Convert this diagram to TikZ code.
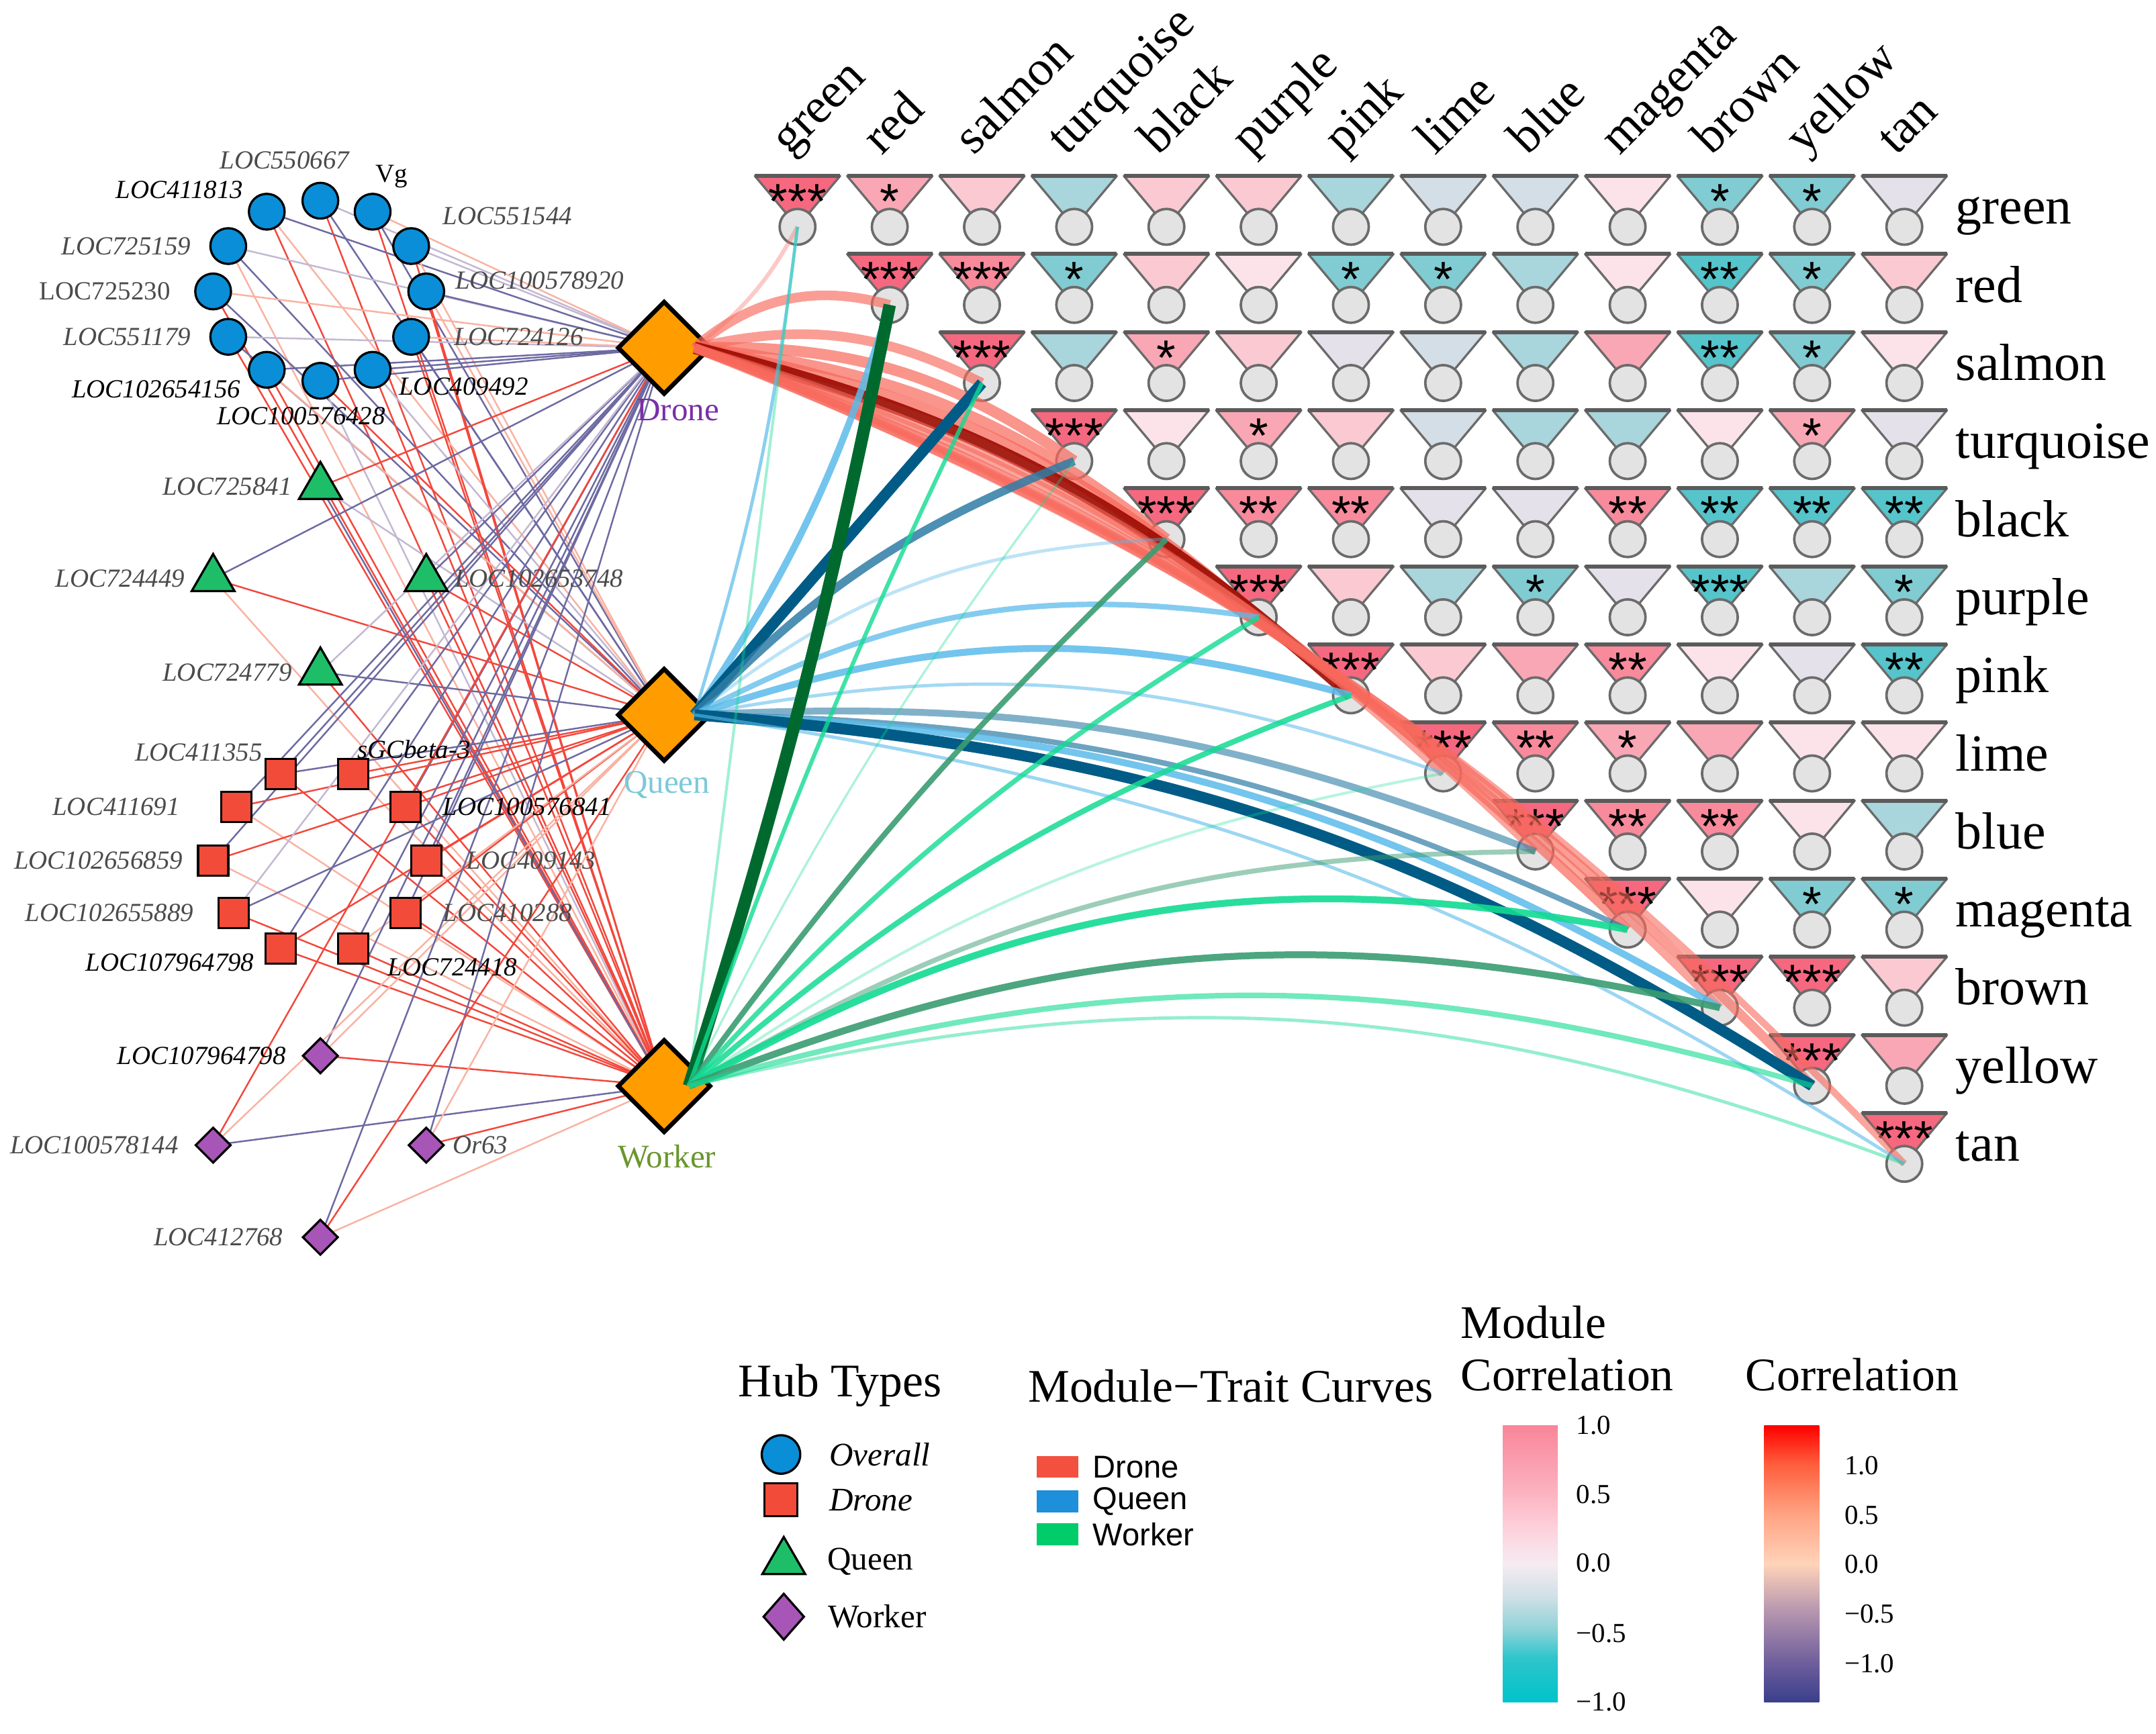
\documentclass[tikz,border=0pt]{standalone}
\usepackage{fontspec}
\setmainfont{Liberation Serif}
\newfontfamily\keysans{Liberation Sans}
\usetikzlibrary{positioning,shapes.geometric}
\pgfdeclarelayer{back}
\pgfdeclarelayer{links}
\pgfsetlayers{back,links,main}
% network nodes
\definecolor{hubor}{HTML}{FF9C00}
\definecolor{ovblue}{HTML}{0A8ED8}
\definecolor{drred}{HTML}{F24B3A}
\definecolor{qugreen}{HTML}{1EBE68}
\definecolor{wkpurple}{HTML}{A855B8}
\definecolor{labgrey}{HTML}{4B4B4B}
\definecolor{dronelab}{HTML}{7A2FA6}
\definecolor{queenlab}{HTML}{7CC9D9}
\definecolor{workerlab}{HTML}{6A962C}
% hub links
\definecolor{eR}{HTML}{F2483C}
\definecolor{er}{HTML}{F9B3A2}
\definecolor{eB}{HTML}{6D6AA2}
\definecolor{eb}{HTML}{C3B8D2}
% module cells
\definecolor{P4}{HTML}{F6687F}
\definecolor{P3}{HTML}{F88A9C}
\definecolor{P2}{HTML}{F9A7B4}
\definecolor{P1}{HTML}{FBC9D2}
\definecolor{P0}{HTML}{FCE3EA}
\definecolor{Z0}{HTML}{E5E1EB}
\definecolor{N1}{HTML}{D4DEE6}
\definecolor{N2}{HTML}{A9D5DC}
\definecolor{N3}{HTML}{80CCD2}
\definecolor{N4}{HTML}{55C4CB}
\definecolor{cellline}{HTML}{6B6B6B}
\definecolor{cellcirc}{HTML}{E3E3E3}
% curves
\definecolor{cdr}{HTML}{F8695C}
\definecolor{cdrdark}{HTML}{9C0A00}
\definecolor{cqu}{HTML}{5BBBEA}
\definecolor{cqumid}{HTML}{2E7DA6}
\definecolor{cqudark}{HTML}{005C86}
\definecolor{cwk}{HTML}{12DB92}
\definecolor{cwkmid}{HTML}{3A9D72}
\definecolor{cwkdark}{HTML}{006A2E}
% legends
\definecolor{kyDrone}{HTML}{F4503F}
\definecolor{kyQueen}{HTML}{1D8FDB}
\definecolor{kyWorker}{HTML}{00CC6A}
\definecolor{msA}{HTML}{00C3CA}
\definecolor{msB}{HTML}{2EC5CB}
\definecolor{msC}{HTML}{8CD2D7}
\definecolor{msD}{HTML}{CFE0E6}
\definecolor{msE}{HTML}{F6EBF1}
\definecolor{msF}{HTML}{FDD3DD}
\definecolor{msG}{HTML}{FCB2C0}
\definecolor{msH}{HTML}{F8869A}
\definecolor{csA}{HTML}{3A3F8C}
\definecolor{csB}{HTML}{6E5E9C}
\definecolor{csC}{HTML}{B293AE}
\definecolor{csD}{HTML}{FFD3B9}
\definecolor{csE}{HTML}{FFA383}
\definecolor{csF}{HTML}{FF5E3C}
\definecolor{csG}{HTML}{FF0000}
\pgfdeclareverticalshading{modscale}{100bp}{color(0bp)=(msA); color(25bp)=(msA); color(33bp)=(msB); color(38bp)=(msC); color(44bp)=(msD); color(50bp)=(msE); color(56bp)=(msF); color(63bp)=(msG); color(75bp)=(msH); color(100bp)=(msH)}
\pgfdeclareverticalshading{corscale}{100bp}{color(0bp)=(csA); color(25bp)=(csA); color(32bp)=(csB); color(41bp)=(csC); color(50bp)=(csD); color(59bp)=(csE); color(68bp)=(csF); color(75bp)=(csG); color(100bp)=(csG)}
% one funnel cell of the module matrix
\newcommand{\modcell}[4]{%
  \pgfmathsetmacro{\cx}{580+67.08*#2}%
  \pgfmathsetmacro{\ty}{128+56.8*#1}%
  \pgfmathsetmacro{\cy}{165+56.8*#1}%
  \filldraw[funnel,fill=#3] (\cx-31,\ty) -- (\cx+31,\ty) -- (\cx,\cy) -- cycle;
  \draw[funneltop] (\cx-31,\ty) -- (\cx+31,\ty);
  \node[modcirc] (m#1-#2) at (\cx,\cy) {};
  \node[sig] (s#1-#2) at (\cx,\ty+31) {#4};}
\newcommand{\modrow}[2]{\foreach \fc/\st [count=\col from #1] in {#2}{\modcell{#1}{\col}{\fc}{\st}}}

\begin{document}
\begin{tikzpicture}[x=0.5pt,y=-0.5pt,
 hub/.style={diamond,draw=black,line width=1.6pt,fill=hubor,minimum width=34pt,minimum height=34pt,inner sep=0pt},
 overall/.style={circle,draw=black,line width=0.8pt,fill=ovblue,minimum size=13pt,inner sep=0pt},
 dronehub/.style={rectangle,draw=black,line width=0.8pt,fill=drred,minimum size=11pt,inner sep=0pt},
 queenhub/.style={regular polygon,regular polygon sides=3,draw=black,line width=0.8pt,fill=qugreen,minimum size=18pt,inner sep=0pt},
 workerhub/.style={diamond,draw=black,line width=0.8pt,fill=wkpurple,minimum width=13pt,minimum height=13pt,inner sep=0pt},
 gene/.style={font=\fontsize{9.5}{11}\selectfont\itshape,text=labgrey,inner sep=0.5pt},
 genek/.style={gene,text=black},
 geneup/.style={font=\fontsize{9.5}{11}\selectfont,text=labgrey,inner sep=0.5pt},
 hublab/.style={font=\fontsize{12}{14}\selectfont,inner sep=0.5pt},
 link/.style={line width=0.6pt},
 funnel/.style={draw=cellline,line width=0.8pt,line join=round},
 funneltop/.style={draw=cellline!85!black,line width=1.5pt},
 modcirc/.style={circle,draw=cellline,line width=0.9pt,fill=cellcirc,minimum size=13pt,inner sep=0pt},
 sig/.style={anchor=base,font=\keysans\fontsize{18}{18}\selectfont,inner sep=0pt},
 collab/.style={anchor=base west,rotate=45,font=\fontsize{18}{20}\selectfont,inner sep=0pt},
 rowlab/.style={anchor=base west,font=\fontsize{19}{21}\selectfont,inner sep=0pt},
 ttl/.style={font=\fontsize{17}{19}\selectfont,inner sep=0pt},
 keytxt/.style={font=\fontsize{12}{14}\selectfont,inner sep=0pt},
 curvkey/.style={rectangle,minimum width=15pt,minimum height=8pt,inner sep=0pt},
 curvtxt/.style={font=\keysans\fontsize{11.5}{13}\selectfont,inner sep=0pt},
 ticklab/.style={anchor=west,font=\fontsize{10}{12}\selectfont,inner sep=0pt}]
\useasboundingbox (0,0) rectangle (1568,1261);
\begin{pgfonlayer}{back}
 \fill[white] (0,0) rectangle (1568,1261);
\end{pgfonlayer}

% overall hub genes
\node[overall] (o1) at (233,146) {};
\node[overall] (o2) at (271,154) {};
\node[overall] (o3) at (194,154) {};
\node[overall] (o4) at (166,179) {};
\node[overall] (o5) at (299,179) {};
\node[overall] (o6) at (155,212) {};
\node[overall] (o7) at (310,212) {};
\node[overall] (o8) at (166,245) {};
\node[overall] (o9) at (299,245) {};
\node[overall] (o10) at (194,269) {};
\node[overall] (o11) at (271,269) {};
\node[overall] (o12) at (233,277) {};
\node[gene,above=4pt of o1,xshift=-13pt] (t1) {LOC550667};
\node[geneup,text=black,above=1pt of o2,xshift=7pt] (t2) {Vg};
\node[genek,left=1pt of o3,yshift=8pt] (t3) {LOC411813};
\node[gene,left=6pt of o4] (t4) {LOC725159};
\node[gene,right=4pt of o5,yshift=11pt] (t5) {LOC551544};
\node[geneup,left=8pt of o6] (t6) {LOC725230};
\node[gene,right=3pt of o7,yshift=4pt] (t7) {LOC100578920};
\node[gene,left=6pt of o8] (t8) {LOC551179};
\node[gene,right=8pt of o9] (t9) {LOC724126};
\node[genek,left=2pt of o10,yshift=-7pt] (t10) {LOC102654156};
\node[genek,right=2pt of o11,yshift=-6pt] (t11) {LOC409492};
\node[genek,below=2pt of o12,xshift=-7pt] (t12) {LOC100576428};

% queen hub genes
\node[queenhub] (q1) at (233,354) {};
\node[queenhub] (q2) at (155,421) {};
\node[queenhub] (q3) at (310,421) {};
\node[queenhub] (q4) at (233,489) {};
\node[gene,left=4pt of q1] (t13) {LOC725841};
\node[gene,left=4pt of q2] (t14) {LOC724449};
\node[gene,right=4pt of q3] (t15) {LOC102653748};
\node[gene,left=4pt of q4] (t16) {LOC724779};

% drone hub genes
\node[dronehub] (d1) at (204,563) {};
\node[dronehub] (d2) at (257,563) {};
\node[dronehub] (d3) at (172,587) {};
\node[dronehub] (d4) at (295,587) {};
\node[dronehub] (d5) at (155,626) {};
\node[dronehub] (d6) at (310,626) {};
\node[dronehub] (d7) at (170,664) {};
\node[dronehub] (d8) at (295,664) {};
\node[dronehub] (d9) at (204,690) {};
\node[dronehub] (d10) at (257,690) {};
\node[gene,above left=-2pt and 0pt of d1] (t17) {LOC411355};
\node[genek,above=-1pt of d2,xshift=22pt] (t18) {sGCbeta-3};
\node[gene,left=14pt of d3] (t19) {LOC411691};
\node[genek,right=7pt of d4] (t20) {LOC100576841};
\node[gene,left=4.5pt of d5] (t21) {LOC102656859};
\node[gene,right=8pt of d6] (t22) {LOC409143};
\node[gene,left=8pt of d7] (t23) {LOC102655889};
\node[gene,right=7pt of d8] (t24) {LOC410288};
\node[genek,left=3pt of d9,yshift=-5pt] (t25) {LOC107964798};
\node[genek,below right=-3pt and 6pt of d10] (t26) {LOC724418};

% worker hub genes
\node[workerhub] (w1) at (233,768) {};
\node[workerhub] (w2) at (155,833) {};
\node[workerhub] (w3) at (310,833) {};
\node[workerhub] (w4) at (233,900) {};
\node[genek,left=5pt of w1] (t27) {LOC107964798};
\node[gene,left=5pt of w2] (t28) {LOC100578144};
\node[gene,right=2pt of w3] (t29) {Or63};
\node[gene,left=6pt of w4] (t30) {LOC412768};

% caste hubs
\node[hub] (drone) at (483,253) {};
\node[hub] (queen) at (483,520) {};
\node[hub] (worker) at (483,790) {};
\node[hublab,text=dronelab,below=0pt of drone,xshift=5pt] (dlab) {Drone};
\node[hublab,text=queenlab,below=2pt of queen,xshift=1pt] (qlab) {Queen};
\node[hublab,text=workerlab,below=3pt of worker,xshift=1pt] (wlab) {Worker};

\begin{pgfonlayer}{links}
\foreach \n/\cd/\cq/\cw in {o1/eb/eB/eR,o2/er/eB/eR,o3/eB/er/eR,o4/eb/eB/er,o5/eb/er/eR,o6/er/eB/eR,
  o7/eB/er/eR,o8/eb/eB/eR,o9/er/eB/eR,o10/eB/er/eR,o11/eB/eb/eR,o12/eB/eR/eb,
  q1/eR/eb/eB,q2/eB/eR/er,q3/eB/eR/eR,q4/eb/eB/eR,
  d1/eB/eB/eR,d2/eB/eR/er,d3/eB/eR/er,d4/eB/eR/eR,d5/eB/eR/er,d6/eB/eR/eR,d7/eb/eB/eR,
  d8/eB/eR/eR,d9/eB/eR/eR,d10/eB/er/eR,
  w1/eB/er/eR,w2/eR/er/eB,w3/eB/er/eR,w4/eB/eR/er}
 {\draw[link,draw=\cd] (\n.center) -- (drone.center);
  \draw[link,draw=\cq] (\n.center) -- (queen.center);
  \draw[link,draw=\cw] (\n.center) -- (worker.center);}
\end{pgfonlayer}

% module correlation matrix
\foreach \lab [count=\col from 0] in {green,red,salmon,turquoise,black,purple,pink,lime,blue,magenta,brown,yellow,tan}
 {\node[collab] (cl\col) at ({574+67.08*\col},114) {\lab};
  \node[rowlab] (rl\col) at (1422,{163+56.8*\col}) {\lab};}
\modrow{0}{P4/***,P2/*,P1/{},N2/{},P1/{},P1/{},N2/{},N1/{},N1/{},P0/{},N3/*,N3/*,Z0/{}}
\modrow{1}{P4/***,P3/***,N3/*,P1/{},P0/{},N3/*,N3/*,N2/{},P0/{},N4/**,N3/*,P1/{}}
\modrow{2}{P4/***,N2/{},P2/*,P1/{},Z0/{},N1/{},N2/{},P2/{},N4/**,N3/*,P0/{}}
\modrow{3}{P4/***,P0/{},P2/*,P1/{},N1/{},N2/{},N2/{},P0/{},P2/*,Z0/{}}
\modrow{4}{P4/***,P3/**,P3/**,Z0/{},Z0/{},P3/**,N4/**,N4/**,N4/**}
\modrow{5}{P4/***,P1/{},N2/{},N3/*,Z0/{},N4/***,N2/{},N3/*}
\modrow{6}{P4/***,P1/{},P2/{},P3/**,P0/{},Z0/{},N4/**}
\modrow{7}{P4/***,P3/**,P2/*,P2/{},P0/{},P0/{}}
\modrow{8}{P4/***,P3/**,P3/**,P0/{},N2/{}}
\modrow{9}{P4/***,P0/{},N3/*,N3/*}
\modrow{10}{P4/***,P4/***,P1/{}}
\modrow{11}{P4/***,P2/{}}
\modrow{12}{P4/***}

% module-trait curves
\foreach \tg/\w/\cc/\op/\bd in {0/1.5/cdr/0.35/-12,1/3.5/cdr/0.65/28,2/3.5/cdr/0.65/20,3/4/cdr/0.7/18,
  4/4/cdr/0.7/16,5/4/cdr/0.75/15,6/4.5/cdrdark/0.9/14,7/3/cdr/0.6/13,8/3/cdr/0.6/13,
  9/3.5/cdr/0.7/12,10/3/cdr/0.6/12,11/3.5/cdr/0.65/12,12/2.5/cdr/0.6/12}
 \draw[line width=\w pt,draw=\cc,opacity=\op] ([xshift=11pt]drone.center) to[bend left=\bd] (m\tg-\tg.center);
\foreach \tg/\w/\cc/\op/\bd in {0/1.2/cqu/0.7/-5,1/2.5/cqu/0.85/-8,2/4/cqudark/1/0,3/3/cqumid/0.85/12,
  4/1.2/cqu/0.4/18,5/2/cqu/0.75/18,6/2.5/cqu/0.85/17,7/1.2/cqu/0.55/15,8/2.5/cqumid/0.6/12,
  9/2/cqumid/0.7/12,10/2.5/cqu/0.85/14,11/4/cqudark/1/14,12/1.2/cqu/0.6/12}
 \draw[line width=\w pt,draw=\cc,opacity=\op] ([xshift=11pt]queen.center) to[bend left=\bd] (m\tg-\tg.center);
\foreach \tg/\w/\cc/\op/\bd in {0/1/cwk/0.4/0,1/4.5/cwkdark/1/-3,2/1.5/cwk/0.8/3,3/0.8/cwk/0.35/5,
  4/2/cwkmid/0.9/5,5/1.8/cwk/0.8/8,6/2/cwk/0.85/10,7/1/cwk/0.3/12,8/1.8/cwkmid/0.5/15,
  9/2.5/cwk/0.9/20,10/2.5/cwkmid/0.9/17,11/2/cwk/0.6/16,12/1.2/cwk/0.45/17}
 \draw[line width=\w pt,draw=\cc,opacity=\op] ([xshift=9pt]worker.center) to[bend left=\bd] (m\tg-\tg.center);

% legends
\node[ttl] (hubttl) at (611,1008) {Hub Types};
\node[overall,minimum size=14pt] (kov) at (568,1058) {};
\node[dronehub,minimum size=12pt] (kdr) at (568,1091) {};
\node[queenhub] (kqu) at (570,1136) {};
\node[workerhub,minimum width=15pt,minimum height=17pt] (kwk) at (570,1176) {};
\node[keytxt,right=10pt of kov] (kovt) {\itshape Overall};
\node[keytxt,right=11pt of kdr] (kdrt) {\itshape Drone};
\node[keytxt,right=10pt of kqu] (kqut) {Queen};
\node[keytxt,right=8pt of kwk] (kwkt) {Worker};

\node[ttl] (curttl) at (895,1008) {Module−Trait Curves};
\node[curvkey,fill=kyDrone] (kcd) at (769,1067) {};
\node[curvkey,fill=kyQueen] (kcq) at (769,1092) {};
\node[curvkey,fill=kyWorker] (kcw) at (769,1116) {};
\node[curvtxt,right=5pt of kcd] (kcdt) {Drone};
\node[curvtxt,right=5pt of kcq] (kcqt) {Queen};
\node[curvtxt,right=5pt of kcw] (kcwt) {Worker};

\node[ttl,align=left,anchor=west] (mcttl) at (1062,981) {Module\\Correlation};
\shade[shading=modscale] (1093,1037) rectangle (1133,1238);
\foreach \val/\y in {1.0/1037,0.5/1087,0.0/1137,−0.5/1188,−1.0/1238}
 \node[ticklab] (mt\y) at (1146,\y) {\val};

\node[ttl] (corttl) at (1347,1000) {Correlation};
\shade[shading=corscale] (1283,1037) rectangle (1323,1238);
\foreach \val/\y in {1.0/1066,0.5/1102,0.0/1138,−0.5/1174,−1.0/1210}
 \node[ticklab] (ct\y) at (1341,\y) {\val};
\end{tikzpicture}
\end{document}
